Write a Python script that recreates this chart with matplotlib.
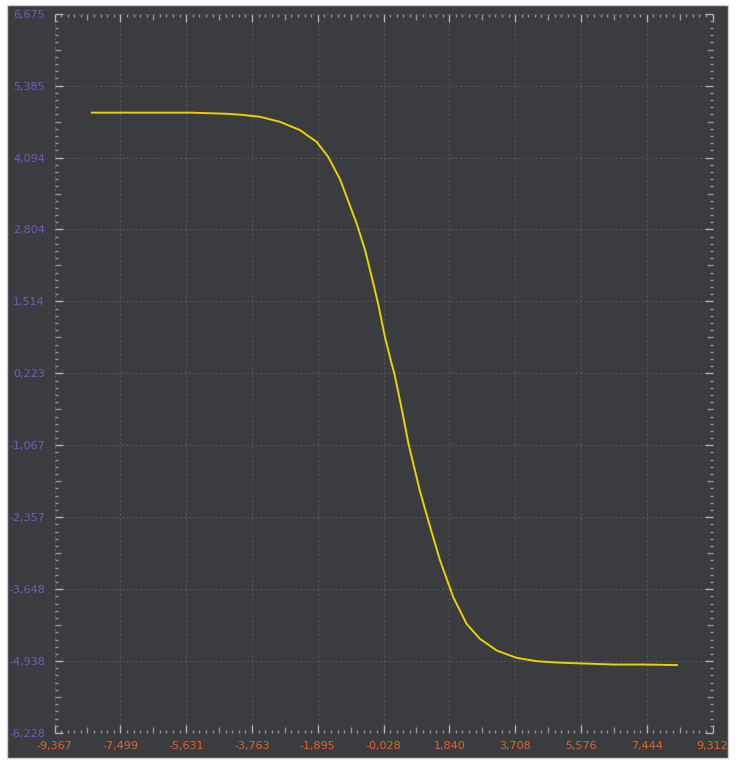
import matplotlib.pyplot as plt
from matplotlib.patches import Rectangle
from matplotlib.ticker import FixedLocator

# values
x_vals = [-8.31, -7.0, -5.5, -4.5, -4.10, -3.54, -2.97, -2.40, -1.93, -1.60,
          -1.26, -0.79, -0.55, -0.32, -0.18, 0.01, 0.20, 0.28, 0.49, 0.68,
          0.91, 1.01, 1.29, 1.575, 1.86, 1.95, 2.33, 2.71, 3.19, 3.75,
          4.32, 4.89, 5.6, 6.5, 7.4, 8.30]
y_vals = [4.90, 4.90, 4.90, 4.88, 4.864, 4.826, 4.736, 4.587, 4.377, 4.108,
          3.70, 2.91, 2.43, 1.84, 1.47, 0.88, 0.40, 0.22, -0.42, -1.04,
          -1.64, -1.90, -2.52, -3.13, -3.63, -3.79, -4.27, -4.54, -4.75, -4.88,
          -4.94, -4.964, -4.98, -5.00, -5.00, -5.01]

x_ticks = [-9.367, -7.499, -5.631, -3.763, -1.895, -0.028, 1.840, 3.708, 5.576, 7.444, 9.312]
x_labels = ["-9,367", "-7,499", "-5,631", "-3,763", "-1,895", "-0,028",
            "1,840", "3,708", "5,576", "7,444", "9,312"]
y_ticks = [-6.228, -4.938, -3.648, -2.357, -1.067, 0.223, 1.514, 2.804, 4.094, 5.385, 6.675]
y_labels = ["-6,228", "-4,938", "-3,648", "-2,357", "-1,067", "0,223",
            "1,514", "2,804", "4,094", "5,385", "6,675"]

bg = "#3b3c3f"
W, H = 735, 763

fig = plt.figure(figsize=(W / 100, H / 100), dpi=100)
fig.patch.set_facecolor("white")
fig.patches.append(Rectangle((7 / W, 5 / H), 721 / W, 753 / H, transform=fig.transFigure,
                             facecolor=bg, edgecolor="#cfcfcf", linewidth=1.0, zorder=-1))

ax = fig.add_axes([54.6 / W, 30 / H, 657.9 / W, 719.3 / H])
ax.set_facecolor(bg)
for s in ax.spines.values():
    s.set_visible(False)

ax.plot(x_vals, y_vals, color="#e8d200", linewidth=1.4, zorder=3)

ax.set_xlim(x_ticks[0], x_ticks[-1])
ax.set_ylim(y_ticks[0], y_ticks[-1])
ax.set_xticks(x_ticks)
ax.set_xticklabels(x_labels)
ax.set_yticks(y_ticks)
ax.set_yticklabels(y_labels)


def sub_ticks(ticks):
    out = []
    for a, b in zip(ticks[:-1], ticks[1:]):
        for k in range(1, 10):
            out.append(a + (b - a) * k / 10)
    return out


ax.xaxis.set_minor_locator(FixedLocator(sub_ticks(x_ticks)))
ax.yaxis.set_minor_locator(FixedLocator(sub_ticks(y_ticks)))

ax.tick_params(which="both", direction="in", top=True, right=True,
               labeltop=False, labelright=False)
ax.tick_params(which="major", length=5.5, width=1, color="#b4b4b4")
ax.tick_params(which="minor", length=2.5, width=1, color="#959595")
ax.tick_params(axis="x", which="major", labelsize=8, labelcolor="#e0662c", pad=6)
ax.tick_params(axis="y", which="major", labelsize=8, labelcolor="#7a58c0", pad=7)

ax.grid(True, which="major", color="#55565a", linestyle=(0, (2, 2)), linewidth=0.8)
ax.set_axisbelow(True)

# longer tick in the middle of each interval
fig.canvas.draw()
for axis in (ax.xaxis, ax.yaxis):
    for i, t in enumerate(axis.get_minor_ticks()):
        if i % 9 == 4:
            t.tick1line.set_markersize(4)
            t.tick2line.set_markersize(4)

fig.savefig("out.png", dpi=100, facecolor=fig.get_facecolor())
